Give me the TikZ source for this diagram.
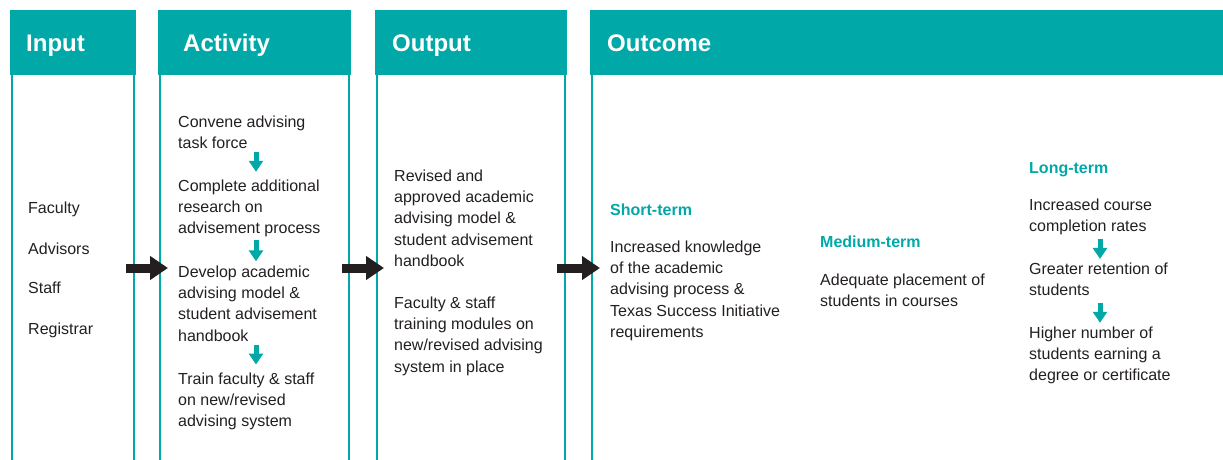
\documentclass[tikz,border=0pt]{standalone}
\usepackage{fontspec}
\setmainfont{Liberation Sans}
\usetikzlibrary{arrows.meta,calc}
\definecolor{teal1}{RGB}{0,168,168}
\definecolor{ink}{RGB}{35,31,32}
\begin{document}
\begin{tikzpicture}[x=1pt,y=-1pt,
 hdr/.style={fill=teal1,draw=none,inner sep=0,anchor=north west,minimum height=65pt},
 title/.style={anchor=base west,inner sep=0,text=white,font=\fontsize{24}{28}\selectfont\bfseries},
 colline/.style={draw=teal1,line width=2pt},
 body/.style={anchor=base west,inner sep=0,text=ink,align=left,font=\fontsize{16}{21.4}\selectfont},
 sub/.style={anchor=base west,inner sep=0,text=teal1,font=\fontsize{16}{20}\selectfont\bfseries},
 bigarrow/.style={draw=ink,line width=9pt,-{Triangle[width=23pt,length=18pt]}},
 smallarrow/.style={draw=teal1,line width=5pt,-{Triangle[width=14pt,length=11pt]}}]
\useasboundingbox (0,0) rectangle (1223,460);

% headers
\node[hdr,minimum width=126pt] (hIn)  at (10,10) {};
\node[hdr,minimum width=193pt] (hAct) at (158,10) {};
\node[hdr,minimum width=192pt] (hOut) at (375,10) {};
\node[hdr,minimum width=633pt] (hOc)  at (590,10) {};
\node[title] (tIn)  at (26,52)  {Input};
\node[title] (tAct) at (183,52) {Activity};
\node[title] (tOut) at (392,52) {Output};
\node[title] (tOc)  at (607,52) {Outcome};

% column lines
\draw[colline] ([xshift=1.5pt]hIn.south west) -- ++(0,400);
\draw[colline] ([xshift=-2pt]hIn.south east) -- ++(0,400);
\draw[colline] ([xshift=2pt]hAct.south west) -- ++(0,400);
\draw[colline] ([xshift=-2pt]hAct.south east) -- ++(0,400);
\draw[colline] ([xshift=2pt]hOut.south west) -- ++(0,400);
\draw[colline] ([xshift=-2.5pt]hOut.south east) -- ++(0,400);
\draw[colline] ([xshift=2pt]hOc.south west) -- ++(0,400);

% input
\node[body] (in1) at (28,213) {Faculty};
\node[body] (in2) at (28,254) {Advisors};
\node[body] (in3) at (28,293) {Staff};
\node[body] (in4) at (28,334) {Registrar};

% activity (anchor = baseline of last line)
\node[body] (a1) at (178,148.4) {Convene advising\\task force};
\node[body] (a2) at (178,233.8) {Complete additional\\research on\\advisement process};
\node[body] (a3) at (178,341.2) {Develop academic\\advising model \&\\student advisement\\handbook};
\node[body] (a4) at (178,426.8) {Train faculty \& staff\\on new/revised\\advising system};
\coordinate (ax) at (256,0);
\draw[smallarrow] ($(a1.south -| ax)+(0,3)$) -- ++(0,20);
\draw[smallarrow] ($(a2.south -| ax)+(0,3)$) -- ++(0,21);
\draw[smallarrow] ($(a3.south -| ax)+(0,3)$) -- ++(0,20);

% output
\node[body] (o1) at (394,266.6) {Revised and\\approved academic\\advising model \&\\student advisement\\handbook};
\node[body] (o2) at (394,372.2) {Faculty \& staff\\training modules on\\new/revised advising\\system in place};

% outcome
\node[sub] (st) at (610,215) {Short-term};
\node[body] (s1) at (610,337.6) {Increased knowledge\\of the academic\\advising process \&\\Texas Success Initiative\\requirements};
\node[sub] (mt) at (820,247) {Medium-term};
\node[body] (m1) at (820,306.4) {Adequate placement of\\students in courses};
\node[sub] (lt) at (1029,173) {Long-term};
\node[body] (l1) at (1029,231.4) {Increased course\\completion rates};
\node[body] (l2) at (1029,295.4) {Greater retention of\\students};
\node[body] (l3) at (1029,380.8) {Higher number of\\students earning a\\degree or certificate};
\coordinate (lx) at (1100,0);
\draw[smallarrow] ($(l1.south -| lx)+(0,4)$) -- ++(0,20);
\draw[smallarrow] ($(l2.south -| lx)+(0,7)$) -- ++(0,20);

% big arrows between columns
\coordinate (b1s) at (126,268); \coordinate (b1e) at (168,268);
\coordinate (b2s) at (342,268); \coordinate (b2e) at (384,268);
\coordinate (b3s) at (557,268); \coordinate (b3e) at (600,268);
\draw[bigarrow] (b1s) -- (b1e);
\draw[bigarrow] (b2s) -- (b2e);
\draw[bigarrow] (b3s) -- (b3e);
\end{tikzpicture}
\end{document}
